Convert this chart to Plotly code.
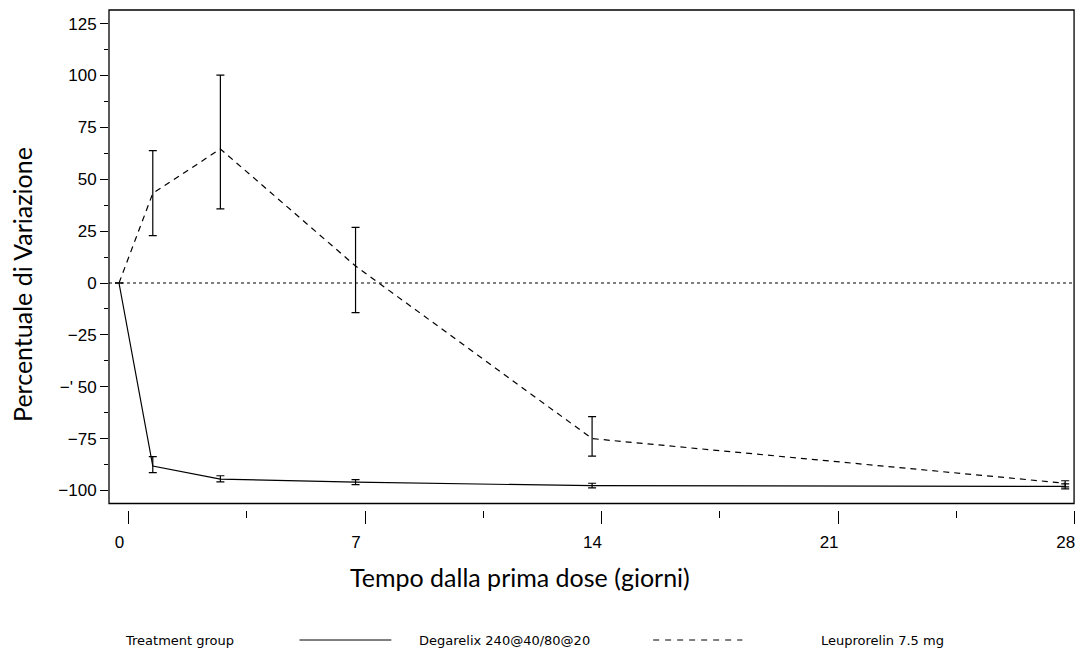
import plotly.graph_objects as go

# ---- data ----
days = [0, 1, 3, 7, 14, 28]

deg_name = "Degarelix 240@40/80@20"
deg_mean = [0, -88.2, -94.5, -96.0, -97.7, -98.0]
deg_upper = [0, -83.7, -92.9, -94.8, -96.5, -96.8]
deg_lower = [0, -91.4, -95.8, -97.2, -98.7, -99.2]

leu_name = "Leuprorelin 7.5 mg"
leu_mean = [0, 43.2, 64.6, 8.2, -75.0, -96.5]
leu_upper = [0, 63.8, 100.2, 26.8, -64.4, -95.3]
leu_lower = [0, 22.8, 35.7, -14.3, -83.4, -98.3]

x_tick_vals = [0, 7, 14, 21, 28]
x_tick_text = ["0", "7", "14", "21", "28"]
x_minor_vals = [3.5, 10.5, 17.5, 24.5]
y_tick_vals = [-100, -75, -50, -25, 0, 25, 50, 75, 100, 125]
y_tick_text = ["\u2212100", "\u221275", "\u2212' 50", "\u221225", "0", "25", "50", "75", "100", "125"]

x_title = "Tempo dalla prima dose (giorni)"
y_title = "Percentuale di Variazione"
legend_title = "Treatment group"

# ---- figure ----
fig = go.Figure()

def err(mean, upper, lower):
    plus = [u - m for u, m in zip(upper, mean)]
    minus = [m - l for m, l in zip(mean, lower)]
    return dict(type="data", array=plus, arrayminus=minus, symmetric=False,
                color="black", thickness=1.2, width=4)

fig.add_trace(go.Scatter(
    x=days, y=deg_mean, mode="lines", name=deg_name,
    line=dict(color="black", width=1.2),
    error_y=err(deg_mean, deg_upper, deg_lower), showlegend=False))

fig.add_trace(go.Scatter(
    x=days, y=leu_mean, mode="lines", name=leu_name,
    line=dict(color="black", width=1.2, dash="6px,5px"),
    error_y=err(leu_mean, leu_upper, leu_lower), showlegend=False))

# invisible trace on the tick axis so it renders
fig.add_trace(go.Scatter(x=[0], y=[0], xaxis="x2", mode="markers",
                         marker=dict(opacity=0), hoverinfo="skip", showlegend=False))

tick_font = dict(family="Liberation Sans, Arial, sans-serif", size=17, color="black")

fig.update_layout(
    width=1077, height=648,
    margin=dict(l=109, r=1, t=10, b=138),
    paper_bgcolor="white", plot_bgcolor="white",
    xaxis=dict(range=[-0.296, 28.32], visible=False, showgrid=False, zeroline=False),
    xaxis2=dict(range=[-0.577, 28.04], overlaying="x", anchor="y", side="bottom",
                tickmode="array", tickvals=x_tick_vals, ticktext=x_tick_text,
                ticks="outside", ticklen=13, tickwidth=1.3, tickcolor="black",
                minor=dict(tickmode="array", tickvals=x_minor_vals, ticks="outside",
                           ticklen=7, tickwidth=1.3, tickcolor="black"),
                ticklabelshift=-9, ticklabelstandoff=4, tickfont=tick_font,
                showgrid=False, zeroline=False, showline=False),
    yaxis=dict(range=[-109.4, 131.57], tickmode="array", tickvals=y_tick_vals,
               ticktext=y_tick_text, ticks="outside", ticklen=8, tickwidth=1.3,
               tickcolor="black",
               minor=dict(dtick=12.5, tick0=0, ticks="outside", ticklen=4,
                          tickwidth=1.3, tickcolor="black"),
               tickfont=tick_font, showgrid=False, zeroline=False, showline=False),
    showlegend=False,
)

# frame and zero reference line
fig.add_shape(type="rect", xref="paper", yref="paper", x0=0, x1=0.998, y0=0.013, y1=1,
              line=dict(color="black", width=1.3), layer="above")
fig.add_shape(type="line", xref="paper", yref="y", x0=0, x1=0.998, y0=0, y1=0,
              line=dict(color="black", width=1, dash="3px,3px"))

title_font = dict(family="Lato, Carlito, sans-serif", size=25, color="black")
fig.add_annotation(text=x_title, xref="paper", yref="paper", x=0.425, y=-0.134,
                   showarrow=False, font=title_font, xanchor="center", yanchor="middle")
fig.add_annotation(text=y_title, xref="paper", yref="paper", x=-0.090, y=0.452,
                   showarrow=False, font=title_font, textangle=-90,
                   xanchor="center", yanchor="middle")

# legend row at the bottom
leg_font = dict(family="DejaVu Sans, sans-serif", size=13, color="black")
leg_y = -0.26
fig.add_annotation(text=legend_title, xref="paper", yref="paper", x=0.0145, y=leg_y,
                   showarrow=False, font=leg_font, xanchor="left", yanchor="middle")
fig.add_shape(type="line", xref="paper", yref="paper", x0=0.197, x1=0.292,
              y0=leg_y, y1=leg_y, line=dict(color="black", width=1))
fig.add_annotation(text=deg_name, xref="paper", yref="paper", x=0.319, y=leg_y,
                   showarrow=False, font=leg_font, xanchor="left", yanchor="middle")
fig.add_shape(type="line", xref="paper", yref="paper", x0=0.5627, x1=0.655,
              y0=leg_y, y1=leg_y, line=dict(color="black", width=1, dash="6px,6px"))
fig.add_annotation(text=leu_name, xref="paper", yref="paper", x=0.7347, y=leg_y,
                   showarrow=False, font=leg_font, xanchor="left", yanchor="middle")

fig.write_html("out.html", config={"displayModeBar": False},
               post_script="document.body.style.margin='0';")
